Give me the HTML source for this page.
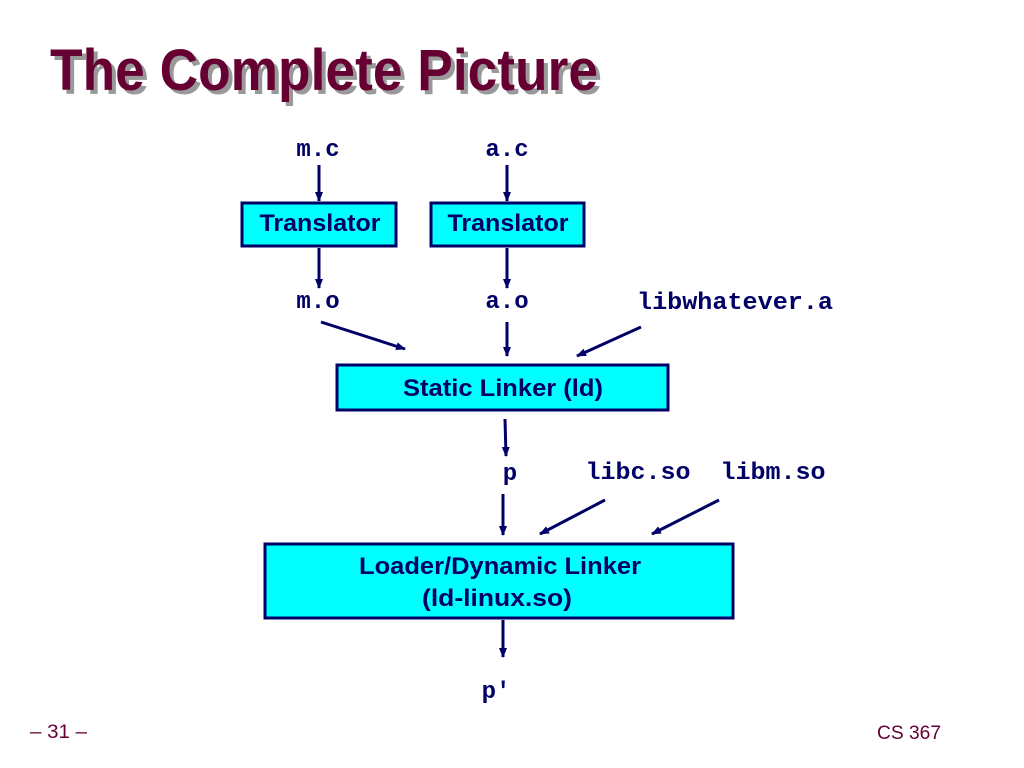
<!DOCTYPE html>
<html><head><meta charset="utf-8"><style>
html,body{margin:0;padding:0;background:#fff;}
svg{display:block;}
</style></head><body>
<svg width="1024" height="768" viewBox="0 0 1024 768" xmlns="http://www.w3.org/2000/svg">
<defs>
<marker id="ah" markerWidth="10" markerHeight="8" refX="9" refY="4" orient="auto" markerUnits="userSpaceOnUse">
<path d="M0,0 L10,4 L0,8 Z" fill="#000066"/>
</marker>
</defs>
<g font-family="Liberation Sans, Arial, sans-serif" font-weight="bold" font-size="58">
<text x="54" y="94" fill="#999999" textLength="548" lengthAdjust="spacingAndGlyphs">The Complete Picture</text>
<text x="50" y="90" fill="#660033" textLength="548" lengthAdjust="spacingAndGlyphs">The Complete Picture</text>
</g>
<g fill="#00ffff" stroke="#000066" stroke-width="3">
<rect x="242" y="203" width="154" height="43"/>
<rect x="431" y="203" width="153" height="43"/>
<rect x="337" y="365" width="331" height="45"/>
<rect x="265" y="544" width="468" height="74"/>
</g>
<g font-family="Liberation Sans, Arial, sans-serif" font-weight="bold" font-size="24" fill="#000066" text-anchor="middle">
<text x="320" y="231" textLength="121" lengthAdjust="spacingAndGlyphs">Translator</text>
<text x="508" y="231" textLength="121" lengthAdjust="spacingAndGlyphs">Translator</text>
<text x="503" y="396" textLength="200" lengthAdjust="spacingAndGlyphs">Static Linker (ld)</text>
<text x="500" y="574" textLength="282" lengthAdjust="spacingAndGlyphs">Loader/Dynamic Linker</text>
<text x="497" y="606" textLength="150" lengthAdjust="spacingAndGlyphs">(ld-linux.so)</text>
</g>
<g font-family="Liberation Mono, Courier New, monospace" font-weight="bold" font-size="24" fill="#000066" text-anchor="middle">
<text x="318" y="156">m.c</text>
<text x="507" y="156">a.c</text>
<text x="318" y="308">m.o</text>
<text x="507" y="308">a.o</text>
<text x="735" y="309" textLength="196" lengthAdjust="spacingAndGlyphs">libwhatever.a</text>
<text x="510" y="480">p</text>
<text x="638" y="479" textLength="105" lengthAdjust="spacingAndGlyphs">libc.so</text>
<text x="773" y="479" textLength="105" lengthAdjust="spacingAndGlyphs">libm.so</text>
<text x="496" y="698">p′</text>
</g>
<g stroke="#000066" stroke-width="3" marker-end="url(#ah)">
<line x1="319" y1="165" x2="319" y2="201"/>
<line x1="507" y1="165" x2="507" y2="201"/>
<line x1="319" y1="248" x2="319" y2="288"/>
<line x1="507" y1="248" x2="507" y2="288"/>
<line x1="321" y1="322" x2="405" y2="349"/>
<line x1="507" y1="322" x2="507" y2="356"/>
<line x1="641" y1="327" x2="577" y2="356"/>
<line x1="505" y1="419" x2="506" y2="456"/>
<line x1="503" y1="494" x2="503" y2="535"/>
<line x1="605" y1="500" x2="540" y2="534"/>
<line x1="719" y1="500" x2="652" y2="534"/>
<line x1="503" y1="620" x2="503" y2="657"/>
</g>
<g font-family="Liberation Sans, Arial, sans-serif" font-size="19" fill="#660033">
<text x="30" y="738" textLength="57" lengthAdjust="spacingAndGlyphs">– 31 –</text>
<text x="877" y="739" textLength="64" lengthAdjust="spacingAndGlyphs">CS 367</text>
</g>
</svg>
</body></html>
